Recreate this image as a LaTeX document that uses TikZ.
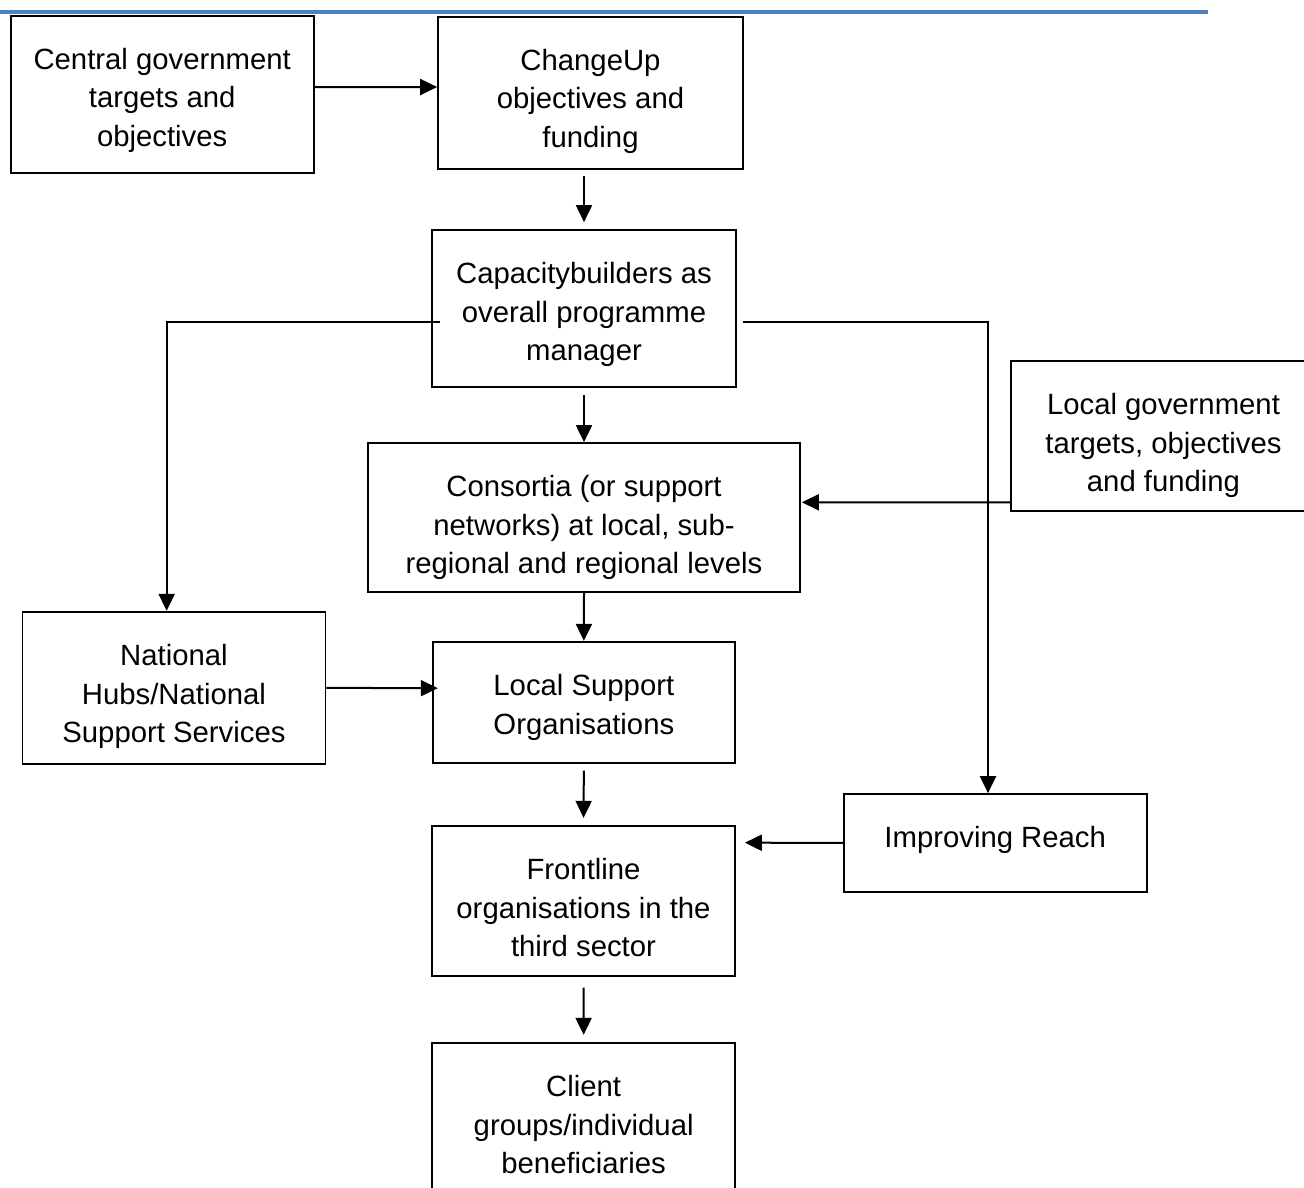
\documentclass[tikz,border=0pt]{standalone}
\usepackage{fontspec}
\setmainfont{Liberation Sans}
\usetikzlibrary{arrows.meta,fit,calc}
\definecolor{rulecol}{HTML}{4F81BD}
\begin{document}
\begin{tikzpicture}[x=0.5pt,y=-0.5pt,
  box/.style={draw, line width=0.85pt, inner sep=0pt, fill=white},
  txt/.style={font=\fontsize{14.65pt}{19.25pt}\selectfont, align=center, inner sep=0pt, anchor=north},
  arr/.style={line width=1pt, -{Triangle[length=8.5pt,width=8pt]}}]
\useasboundingbox (0,0) rectangle (1304,1187);
\clip (0,0) rectangle (1304,1187);
\fill[white] (0,0) rectangle (1304,1187);
\draw[rulecol, line width=1.8pt] (0,12) -- (1208,12);

% boxes
\node[box, fit={(10.7,15.7)(313.7,172.7)}] (central) {};
\node[box, fit={(438,16.7)(743,169.3)}] (changeup) {};
\node[box, fit={(432,230)(736,387)}] (capacity) {};
\node[box, fit={(368,443)(800,592)}] (consortia) {};
\node[box, fit={(1011,360.7)(1316,510.7)}] (localgov) {};
\node[box, fit={(22.4,611.7)(325.5,764)}] (national) {};
\node[box, fit={(432.7,641.7)(735,762.7)}] (localsupport) {};
\node[box, fit={(843.7,794)(1146.7,891.7)}] (improving) {};
\node[box, fit={(432,825.7)(735,975.7)}] (frontline) {};
\node[box, fit={(432,1042.7)(735.3,1215)}] (client) {};

% texts
\node[txt] (central-t) at ($(central.north)+(0,27.3)$) {\strut Central government\\targets and\\objectives};
\node[txt] (changeup-t) at ($(changeup.north)+(0,27.3)$) {\strut ChangeUp\\objectives and\\funding};
\node[txt] (capacity-t) at ($(capacity.north)+(0,27.3)$) {\strut Capacitybuilders as\\overall programme\\manager};
\node[txt] (consortia-t) at ($(consortia.north)+(0,27.3)$) {\strut Consortia (or support\\networks) at local, sub-\\regional and regional levels};
\node[txt] (localgov-t) at ($(localgov.north)+(0,27.3)$) {\strut Local government\\targets, objectives\\and funding};
\node[txt] (national-t) at ($(national.north)+(0,27.3)$) {\strut National\\Hubs/National\\Support Services};
\node[txt] (localsupport-t) at ($(localsupport.north)+(0,27.3)$) {\strut Local Support\\Organisations};
\node[txt] (improving-t) at ($(improving.north)+(0,27.3)$) {\strut Improving Reach};
\node[txt] (frontline-t) at ($(frontline.north)+(0,27.3)$) {\strut Frontline\\organisations in the\\third sector};
\node[txt] (client-t) at ($(client.north)+(0,27.3)$) {\strut Client\\groups/individual\\beneficiaries};

% connectors
\draw[arr] ($(changeup.south -| capacity.north)+(0,6)$) -- ($(capacity.north)+(0,-7)$);
\draw[arr] ($(central.east)+(0,-7)$) -- ($(changeup.west)+(0,-6)$);
\draw[arr] ($(capacity.south)+(0,7)$) -- (consortia.north);
\draw[arr] ($(capacity.west)+(8.7,13.8)$) -| ($(national.north)+(-7.3,0)$);
\draw[arr] ($(capacity.east)+(6.3,13.8)$) -| ($(improving.north)+(-7.2,0)$);
\draw[arr] ($(localgov.west)+(0,66.6)$) -- ($(consortia.east)+(1,-15.2)$);
\draw[arr] (consortia.south) -- (localsupport.north);
\draw[arr] (national.east) -- ($(localsupport.west)+(6,-14)$);
\draw[arr] ($(localsupport.south)+(0,7)$) -- ($(frontline.north)+(0,-7)$);
\draw[arr] (improving.west) -- ($(frontline.east)+(9,-58)$);
\draw[arr] ($(frontline.south)+(0,11)$) -- ($(client.north)+(0,-7)$);
\end{tikzpicture}
\end{document}
